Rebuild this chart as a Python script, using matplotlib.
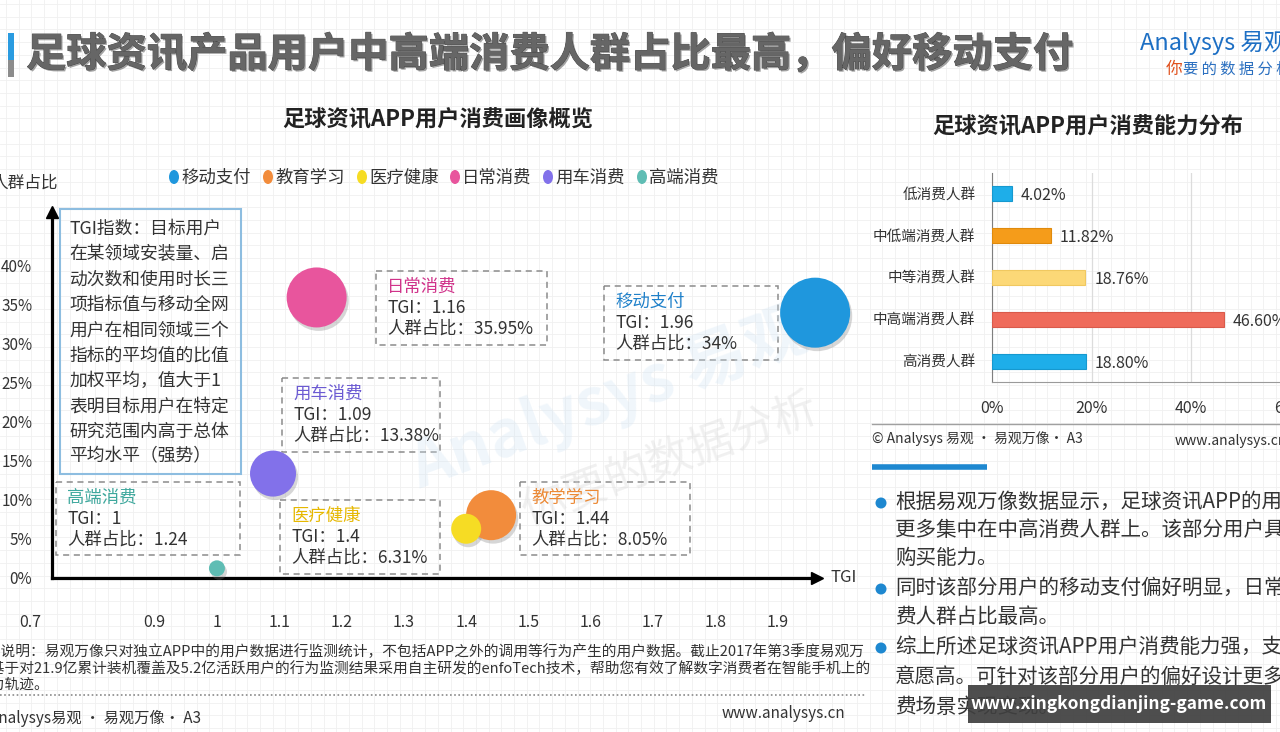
import numpy as np
import matplotlib
matplotlib.use('Agg')
import matplotlib.pyplot as plt
import matplotlib.patheffects as pe
from matplotlib.patches import Rectangle, Ellipse
from matplotlib.transforms import offset_copy

plt.rcParams['font.family'] = ['Noto Sans CJK SC', 'DejaVu Sans']

# bubble chart data
categories = ['移动支付', '教育学习', '医疗健康', '日常消费', '用车消费', '高端消费']
box_titles = ['移动支付', '教学学习', '医疗健康', '日常消费', '用车消费', '高端消费']
tgi = [1.96, 1.44, 1.40, 1.16, 1.09, 1.00]
share = [34.00, 8.05, 6.31, 35.95, 13.38, 1.24]
share_text = ['34%', '8.05%', '6.31%', '35.95%', '13.38%', '1.24']
x_ticks = [0.7, 0.9, 1, 1.1, 1.2, 1.3, 1.4, 1.5, 1.6, 1.7, 1.8, 1.9]
y_ticks = [0, 5, 10, 15, 20, 25, 30, 35, 40]

# bar chart data
levels = ['低消费人群', '中低端消费人群', '中等消费人群', '中高端消费人群', '高消费人群']
level_pct = [4.02, 11.82, 18.76, 46.60, 18.80]
bar_ticks = [0, 20, 40, 60]

# styles
colors = ['#1f97dd', '#f28c3c', '#f6dc24', '#e8559d', '#8271ea', '#5fbdb4']
title_colors = ['#1f80c9', '#ec8a36', '#e6b800', '#d0338a', '#6b5ad2', '#3fa89d']
radius_px = [35, 25, 15, 30, 23, 8]
bar_colors = ['#1eaee9', '#f59c1a', '#fcd877', '#ef6b5b', '#1eaee9']
bar_edges = ['#1699cf', '#e08a0c', '#f0c860', '#d95a4b', '#1699cf']
txt = '#333333'

W, H = 1280, 732
fig = plt.figure(figsize=(12.8, 7.32), dpi=100)


def px(x0, y0, x1, y1):
    return [x0 / W, 1 - y1 / H, (x1 - x0) / W, (y1 - y0) / H]


# background layer in pixel coordinates
bg = fig.add_axes([0, 0, 1, 1])
bg.set_xlim(0, W)
bg.set_ylim(H, 0)
bg.set_xticks(np.arange(6, W, 12.7))
bg.set_yticks(np.arange(4, H, 12.7))
bg.grid(True, color='#f0f0f0', lw=0.6)
bg.set_axisbelow(True)
bg.tick_params(length=0, labelbottom=False, labelleft=False)
for s in bg.spines.values():
    s.set_visible(False)

# header
bg.add_patch(Rectangle((8, 33), 6, 27, color='#2a9be0', lw=0))
bg.add_patch(Rectangle((8, 60), 6, 17, color='#8c8c8c', lw=0))
bg.text(26, 55, '足球资讯产品用户中高端消费人群占比最高，偏好移动支付', fontsize=29,
        fontweight='bold', color='#666666', va='center',
        path_effects=[pe.SimplePatchShadow(offset=(1.2, -1.2), shadow_rgbFace='#333', alpha=0.45),
                      pe.Stroke(linewidth=0.6, foreground='#444444'), pe.Normal()])
bg.text(1140, 43, 'Analysys 易观', fontsize=17, color='#1d6fc4', style='italic', va='center')
bg.text(1166, 69, '你', fontsize=12, color='#e0501c', style='italic', va='center')
bg.text(1183, 69, '要 的 数 据 分 析', fontsize=11, color='#2a6fc0', style='italic', va='center')

# faint watermark
bg.text(610, 400, 'Analysys 易观', fontsize=46, color='#cfe3f3', alpha=0.3, rotation=20,
        ha='center', va='center', fontweight='bold')
bg.text(670, 460, '你要的数据分析', fontsize=32, color='#d6d6d6', alpha=0.35, rotation=20,
        ha='center', va='center')

# left chart title and legend
bg.text(438, 120, '足球资讯APP用户消费画像概览', fontsize=16, fontweight='bold', color='#222',
        ha='center', va='center')
leg_x = [174, 268, 362, 455, 548, 642]
for i, name in enumerate(categories):
    bg.add_patch(Ellipse((leg_x[i], 177), 10, 14, color=colors[i], lw=0))
    bg.text(leg_x[i] + 7, 178, name, fontsize=12.5, color=txt, va='center')

# TGI explanation box
bg.add_patch(Rectangle((60, 209), 181, 265, fill=False, ec='#8dbde0', lw=1.5))
tgi_lines = ['TGI指数：目标用户', '在某领域安装量、启', '动次数和使用时长三', '项指标值与移动全网',
             '用户在相同领域三个', '指标的平均值的比值', '加权平均，值大于1', '表明目标用户在特定',
             '研究范围内高于总体', '平均水平（强势）']
for k, line in enumerate(tgi_lines):
    bg.text(69, 229 + k * 25.3, line, fontsize=12.8, color=txt, va='center')

# annotation boxes
box_px = [(604, 286, 778, 360), (520, 482, 690, 555), (280, 500, 440, 574),
          (376, 271, 547, 345), (282, 378, 440, 452), (56, 482, 240, 555)]
for i, (x0, y0, x1, y1) in enumerate(box_px):
    bg.add_patch(Rectangle((x0, y0), x1 - x0, y1 - y0, fill=False, ec='#8c8c8c',
                           lw=1.1, ls=(0, (4, 3))))
    bg.text(x0 + 11, y0 + 16, box_titles[i], fontsize=12.5, color=title_colors[i], va='center')
    bg.text(x0 + 11, y0 + 37, f'TGI：{tgi[i]:g}', fontsize=12.5, color=txt, va='center')
    bg.text(x0 + 11, y0 + 58, f'人群占比：{share_text[i]}', fontsize=12.5, color=txt, va='center')

# bubble chart
ax = fig.add_axes(px(30, 212, 817, 578))
ax.set_facecolor('none')
ax.set_xlim(0.7, 1.963)
ax.set_ylim(0, 46.9)
ax.spines[['top', 'right']].set_visible(False)
ax.spines['left'].set_position(('data', 0.735))
ax.spines['bottom'].set_bounds(0.735, 1.963)
for s in ['left', 'bottom']:
    ax.spines[s].set_linewidth(2.3)
    ax.spines[s].set_color('black')
ax.plot([1.963], [0], marker='>', color='black', ms=8, clip_on=False)
ax.plot([0.735], [46.9], marker='^', color='black', ms=8, clip_on=False)
ax.set_xticks(x_ticks, [f'{t:g}' for t in x_ticks])
ax.set_yticks(y_ticks, [f'{t}%' for t in y_ticks])
ax.tick_params(axis='x', length=0, pad=26, labelsize=11.5, labelcolor=txt)
ax.tick_params(axis='y', length=0, pad=14, labelsize=11, labelcolor=txt)
ax.annotate('TGI', xy=(1, 0), xycoords='axes fraction', xytext=(10, 0),
            textcoords='offset points', fontsize=12, color=txt, va='center')
ax.annotate('人群占比', xy=(0.735, 46.9), xycoords='data', xytext=(-20, 21),
            textcoords='offset points', fontsize=12, color=txt, va='center', ha='center',
            annotation_clip=False)

sizes = [(2 * r * 0.72) ** 2 for r in radius_px]
shadow = offset_copy(ax.transData, fig=fig, x=1.5, y=-2.5, units='points')
ax.scatter(tgi, share, s=sizes, color='#7a7a7a', alpha=0.3, lw=0, transform=shadow,
           clip_on=False, zorder=3)
ax.scatter(tgi, share, s=sizes, c=colors, lw=0, clip_on=False, zorder=4)

# right bar chart
bg.text(1088, 127, '足球资讯APP用户消费能力分布', fontsize=16, fontweight='bold', color='#222',
        ha='center', va='center')
bx = fig.add_axes(px(992, 173, 1290.5, 382))
bx.set_facecolor('none')
ypos = np.arange(len(levels))
bx.barh(ypos, level_pct, height=0.36, color=bar_colors, edgecolor=bar_edges, lw=0.8, zorder=3)
bx.set_ylim(4.5, -0.5)
bx.set_xlim(0, 60)
bx.set_yticks(ypos, levels)
bx.set_xticks(bar_ticks, [f'{t}%' for t in bar_ticks])
bx.grid(axis='x', color='#dcdcdc', lw=0.9)
bx.set_axisbelow(True)
bx.spines[['top', 'right']].set_visible(False)
bx.spines['left'].set_color('#7f7f7f')
bx.spines['bottom'].set_color('#9a9a9a')
bx.tick_params(axis='y', length=0, pad=12, labelsize=10.5, labelcolor=txt)
bx.tick_params(axis='x', length=0, pad=13, labelsize=11.5, labelcolor=txt)
for y, v in zip(ypos, level_pct):
    bx.text(v + 1.8, y + 0.05, f'{v:.2f}%', va='center', fontsize=11.5, color=txt)

# right footer and bullet text
bg.plot([872, W], [424, 424], color='#a0a0a0', lw=1)
bg.text(872, 439, '© Analysys 易观 · 易观万像· A3', fontsize=10, color=txt, va='center')
bg.text(1175, 441, 'www.analysys.cn', fontsize=10, color=txt, va='center')
bg.plot([872, 987], [467, 467], color='#1e88d0', lw=4, solid_capstyle='butt')
bullets = [['根据易观万像数据显示，足球资讯APP的用户', '更多集中在中高消费人群上。该部分用户具有较强的',
            '购买能力。'],
           ['同时该部分用户的移动支付偏好明显，日常消', '费人群占比最高。'],
           ['综上所述足球资讯APP用户消费能力强，支付', '意愿高。可针对该部分用户的偏好设计更多消',
            '费场景实现变现。']]
line_y = [502, 530, 558, 588, 617, 647, 677, 707]
k = 0
for para in bullets:
    bg.add_patch(Ellipse((881, line_y[k] + 1), 11, 11, color='#1e88d0', lw=0))
    for line in para:
        bg.text(895, line_y[k], line, fontsize=14.8, color=txt, va='center')
        k += 1

# left footnote
note = ['数据说明：易观万像只对独立APP中的用户数据进行监测统计，不包括APP之外的调用等行为产生的用户数据。截止2017年第3季度易观万',
        '像基于对21.9亿累计装机覆盖及5.2亿活跃用户的行为监测结果采用自主研发的enfoTech技术，帮助您有效了解数字消费者在智能手机上的',
        '行为轨迹。']
note_x = [-29, -24, -24]
for j, line in enumerate(note):
    bg.text(note_x[j], 652 + j * 17, line, fontsize=10.6, color=txt, va='center')
bg.plot([0, 865], [695, 695], color='#8a8a8a', lw=1.2, ls=(0, (1, 1.5)))
bg.text(-27, 718, '© Analysys易观 · 易观万像· A3', fontsize=11, color=txt, va='center')
bg.text(722, 713, 'www.analysys.cn', fontsize=11, color=txt, va='center')

# site watermark banner
bg.add_patch(Rectangle((968, 685), 303, 38, color='#3f3f3f', alpha=0.92, lw=0, zorder=5))
bg.text(1119, 704, 'www.xingkongdianjing-game.com', fontsize=12.5, fontweight='bold',
        color='white', ha='center', va='center', zorder=6)

fig.savefig('out.png', dpi=100)
